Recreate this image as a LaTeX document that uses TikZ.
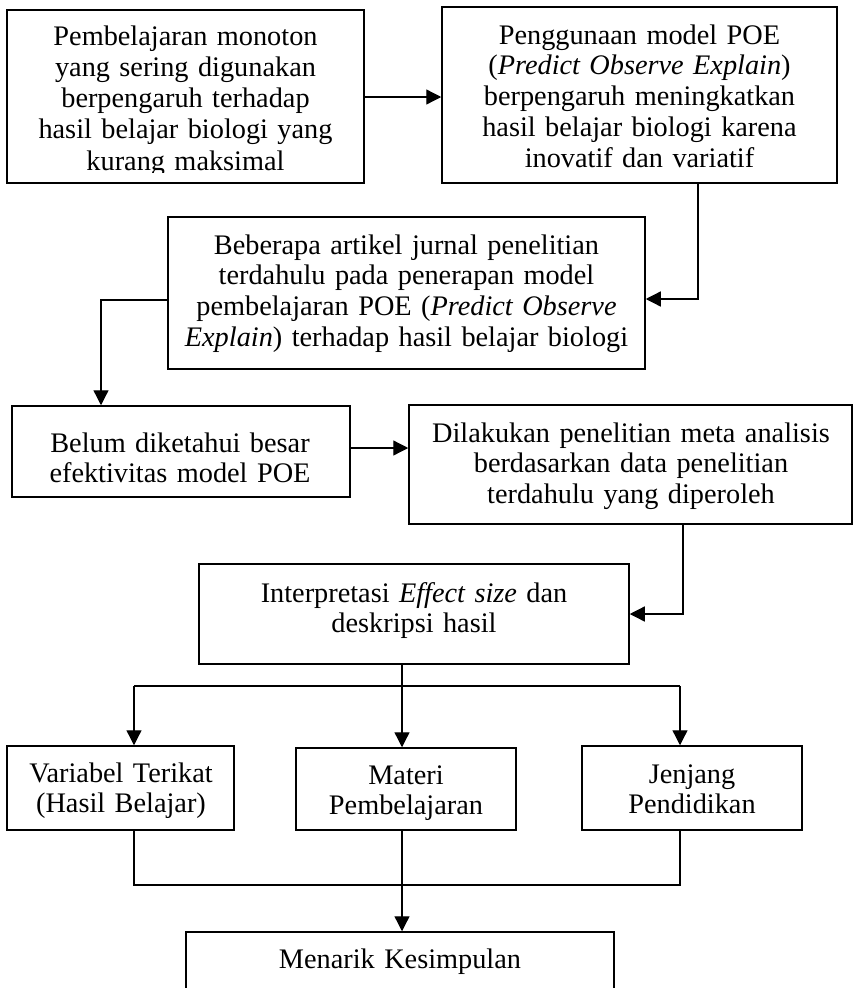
\documentclass[tikz,border=0pt]{standalone}
\usepackage{fontspec}
\setmainfont{Liberation Serif}
\usetikzlibrary{arrows.meta,calc}
\tikzset{
  box/.style={draw, line width=1.5bp, rectangle, inner sep=0pt},
  txt/.style={align=center, text width=#1, inner sep=0pt, anchor=base,
              font=\fontsize{28.3bp}{30.8bp}\selectfont},
  txt/.default=440bp,
  link/.style={line width=1.3bp},
  arr/.style={line width=1.3bp, -{Triangle[length=15bp,width=15bp]}}
}
\begin{document}
\begin{tikzpicture}[x=1bp,y=-1bp]
\useasboundingbox (0,0) rectangle (853,988);
% boxes
\node[box, minimum width=357bp, minimum height=173bp] (b1) at (185.5,96.5) {};
\node[box, minimum width=395bp, minimum height=176bp] (b2) at (639.5,95) {};
\node[box, minimum width=477bp, minimum height=152bp] (b3) at (406.5,293) {};
\node[box, minimum width=338bp, minimum height=91bp] (b4) at (181,451.5) {};
\node[box, minimum width=443bp, minimum height=119bp] (b5) at (630.5,464.5) {};
\node[box, minimum width=430bp, minimum height=100bp] (b6) at (414,614) {};
\node[box, minimum width=227bp, minimum height=84bp] (b7) at (120.5,788) {};
\node[box, minimum width=220bp, minimum height=82bp] (b8) at (406,789) {};
\node[box, minimum width=220bp, minimum height=84bp] (b9) at (692,788) {};
\node[box, minimum width=428bp, minimum height=62bp] (b10) at (400,963) {};
% texts
\begin{scope}
\clip (8,11) rectangle (363,172);
\node[txt=350bp, font=\fontsize{28.3bp}{31.3bp}\selectfont] (t1) at (185.5,45) {Pembelajaran monoton\\yang sering digunakan\\berpengaruh terhadap\\hasil belajar biologi yang\\kurang maksimal};
\end{scope}
\node[txt=390bp] (t2) at (639.5,44) {Penggunaan model POE\\(\textit{Predict Observe Explain})\\berpengaruh meningkatkan\\hasil belajar biologi karena\\inovatif dan variatif};
\node[txt=470bp] (t3) at (406.5,254) {Beberapa artikel jurnal penelitian\\terdahulu pada penerapan model\\pembelajaran POE (\textit{Predict Observe}\\\textit{Explain}) terhadap hasil belajar biologi};
\node[txt=330bp] (t4) at (180,452) {Belum diketahui besar\\efektivitas model POE};
\node[txt=440bp] (t5) at (631,442) {Dilakukan penelitian meta analisis\\berdasarkan data penelitian\\terdahulu yang diperoleh};
\node[txt=420bp] (t6) at (414,602) {Interpretasi \textit{Effect size} dan\\deskripsi hasil};
\node[txt=220bp] (t7) at (121,782) {Variabel Terikat\\(Hasil Belajar)};
\node[txt=215bp] (t8) at (406,784) {Materi\\Pembelajaran};
\node[txt=215bp] (t9) at (692,783) {Jenjang\\Pendidikan};
\node[txt=420bp] (t10) at (400,968) {Menarik Kesimpulan};
% helper coordinates
\coordinate (c2) at (698,299);
\coordinate (c3) at (101,300);
\coordinate (c5) at (683,614);
\coordinate (vx) at (402,0);
\coordinate (lx) at (134,686);
\coordinate (rx) at (680,686);
\coordinate (my) at (0,885);
% connectors
\draw[arr] (b1.east |- 0,97) -- (b2.west |- 0,97);
\draw[arr] (c2 |- b2.south) -- (c2) -- (b3.east |- c2);
\draw[arr] (b3.west |- c3) -- (c3) -- (c3 |- b4.north);
\draw[arr] (b4.east |- 0,448) -- (b5.west |- 0,448);
\draw[arr] (c5 |- b5.south) -- (c5) -- (b6.east |- c5);
\draw[arr] (vx |- b6.south) -- (vx |- b8.north);
\draw[link] (lx) -- (rx);
\draw[arr] (lx) -- (lx |- b7.north);
\draw[arr] (rx) -- (rx |- b9.north);
\draw[link] (lx |- b7.south) -- (lx |- my) -- (rx |- my) -- (rx |- b9.south);
\draw[arr] (vx |- b8.south) -- (vx |- b10.north);
\end{tikzpicture}
\end{document}
